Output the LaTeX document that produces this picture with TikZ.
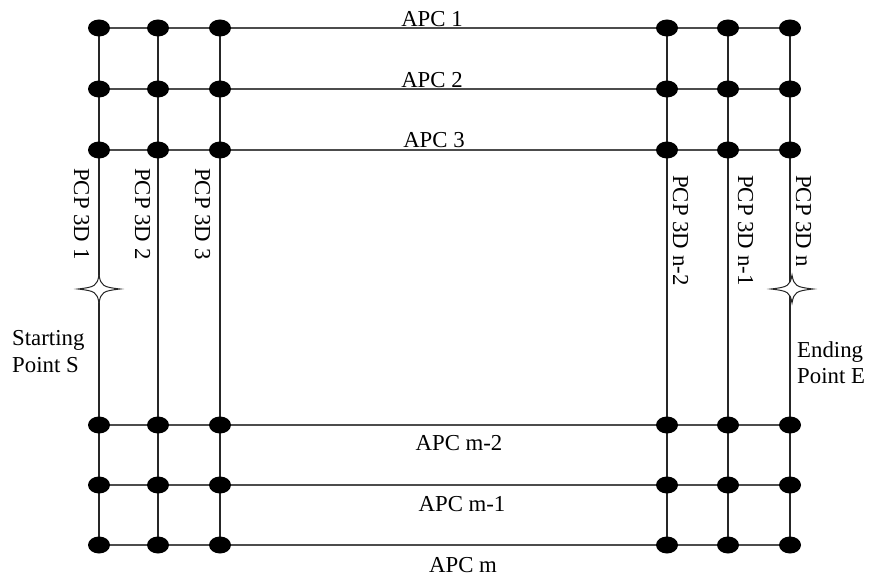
\documentclass[tikz,border=0pt]{standalone}
\usepackage{fontspec}
\setmainfont{Liberation Serif}
\usetikzlibrary{shapes.geometric}
\begin{document}
\begin{tikzpicture}[x=1pt,y=-1pt,
  dotnode/.style={ellipse,fill=black,draw=none,minimum width=22pt,minimum height=17pt,inner sep=0pt},
  hline/.style={draw=black!70,line width=2pt},
  vline/.style={draw=black!85,line width=1.3pt},
  lbl/.style={font=\fontsize{22.8}{27}\selectfont,inner sep=0pt},
  vlbl/.style={lbl,rotate=-90,anchor=base west},
  starshape/.pic={\draw[fill=white,line width=1pt,draw=black!85]
     (21,0) .. controls (4,2) and (2,3) .. (0,14)
     .. controls (-2,3) and (-4,2) .. (-21,0)
     .. controls (-4,-2) and (-2,-3) .. (0,-14)
     .. controls (2,-3) and (4,-2) .. cycle;}
]
\path[use as bounding box,fill=white] (0,0) rectangle (869,577);
% grid coordinates
\foreach \c/\x in {1/99,2/158,3/220,4/667,5/728,6/790}{
  \foreach \r/\y in {1/28,2/89,3/150,4/425,5/485,6/545}{
    \coordinate (p\r\c) at (\x,\y);
  }
}
% horizontal lines
\foreach \r in {1,...,6}{ \draw[hline] (p\r1) -- (p\r6); }
% vertical lines
\foreach \c in {1,...,6}{ \draw[vline] (p1\c) -- (p6\c); }
% dots
\foreach \r in {1,...,6}{
  \foreach \c in {1,...,6}{ \node[dotnode] (d\r\c) at (p\r\c) {}; }
}
% stars
\coordinate (sS) at (99,289);
\coordinate (sE) at (792,289);
\pic (starS) at (sS) {starshape};
\pic (starE) at (sE) {starshape};
% APC labels
\node[lbl,anchor=base] (apc1) at (432,27) {APC 1};
\node[lbl,anchor=base] (apc2) at (432,88) {APC 2};
\node[lbl,anchor=base] (apc3) at (434,148) {APC 3};
\node[lbl,anchor=base] (apcm2) at (459,450) {APC m-2};
\node[lbl,anchor=base] (apcm1) at (462,511) {APC m-1};
\node[lbl,anchor=base] (apcm) at (463,572) {APC m};
% PCP labels
\node[vlbl] (pcp1) at (74,168) {PCP 3D 1};
\node[vlbl] (pcp2) at (135,168) {PCP 3D 2};
\node[vlbl] (pcp3) at (195,168) {PCP 3D 3};
\node[vlbl] (pcpn2) at (673,175) {PCP 3D n-2};
\node[vlbl] (pcpn1) at (738,175) {PCP 3D n-1};
\node[vlbl] (pcpn) at (796,175) {PCP 3D n};
% start / end labels
\node[lbl,anchor=base west] (st1) at (12,345) {Starting};
\node[lbl,anchor=base west] (st2) at (12,372) {Point S};
\node[lbl,anchor=base west] (en1) at (797,357) {Ending};
\node[lbl,anchor=base west] (en2) at (797,383) {Point E};
\end{tikzpicture}
\end{document}
